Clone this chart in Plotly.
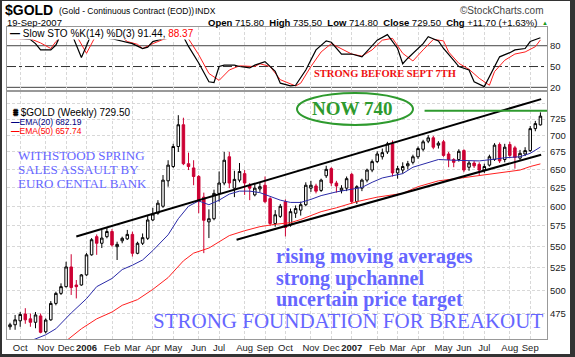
import math
from datetime import timedelta
import pandas as pd
import plotly.graph_objects as go

# ---------------- data ----------------
first_week = "2005-09-19"
n_weeks = 105

opens = [462, 464, 468, 475, 470, 466.5, 473, 457, 469, 486, 496.7, 504, 526, 505.8, 505.8,
         517, 540, 561.7, 553.7, 561.7, 568, 549.6, 556.7, 559, 564.5, 541.8, 553.7, 559.7, 582.4, 591,
         600, 634, 654, 683, 716, 658, 652, 640, 612, 580, 584, 617, 631, 668, 624,
         635, 644, 628, 615, 623, 628, 610, 578, 587, 606, 576, 591, 595, 602, 624,
         627, 621, 641, 651, 631, 621, 624, 643, 606, 624, 635, 649, 661, 668, 675,
         687, 645, 649, 655, 660, 668, 679, 691, 696, 685, 690, 672, 664, 664, 677,
         653, 659, 657, 649, 656, 664, 686, 664, 686, 681, 666, 672, 677, 710, 715.8]
highs = [466, 474, 477, 481, 475.5, 477, 475.5, 470.5, 488.5, 498.5, 507.6, 532, 540.7, 511.3, 518,
         542, 560, 564.4, 570, 573, 571, 555.6, 561.7, 570, 567.8, 555.6, 565.6, 588.7, 598, 608,
         642, 663, 687, 731, 727, 674, 663, 642, 618, 596, 622, 647, 675, 675, 648,
         659, 649, 631, 631, 631, 640, 612, 595, 603, 609, 597, 601, 606, 632, 634,
         630, 637, 655, 653, 634, 628, 640, 645, 628, 637, 651, 664, 676, 680, 690,
         692, 655, 660, 662, 671, 683, 693, 700, 699, 691, 693, 675, 666, 679, 679,
         662, 662, 660, 658, 671, 688, 689, 687, 690, 684, 678, 682, 714, 722, 735.5]
lows = [459, 459, 462, 465, 462, 460.5, 455.5, 455.5, 468, 484, 495, 503, 495, 491.3, 505,
        516, 539, 540, 548, 559.7, 549.6, 534, 553.7, 557.7, 538, 540.7, 551.6, 557.7, 581, 589,
        598, 626, 652, 675, 656, 649, 628, 591, 542, 560, 582, 606, 628, 624, 612,
        632, 615, 608, 613, 619, 604, 575, 574, 585, 562, 574, 585, 588, 600, 619,
        617, 619, 638, 627, 618, 617, 620, 603, 603, 620, 632, 646, 659, 664, 672,
        640, 637, 644, 650, 657, 665, 676, 688, 679, 680, 668, 653, 653, 661, 646,
        648, 652, 642, 645, 654, 662, 659, 660, 666, 651, 663, 669, 675, 706, 714.8]
closes = [464, 469, 474.5, 469, 466.5, 474, 456.5, 468.8, 486, 496.7, 504, 526, 503, 504, 517,
          540, 558, 553.7, 560, 568, 551.6, 552.4, 559.7, 564.5, 541.8, 553.7, 560.5, 582.4, 590, 604,
          635, 656, 683, 716, 658, 654, 640, 606, 582, 584, 617, 631, 663, 631, 636,
          647, 631, 624, 624, 626, 606, 578, 589, 600, 573, 593, 597, 602, 628, 628,
          620, 635, 650, 631, 627, 624, 637, 606, 626, 635, 649, 661, 672, 674, 687,
          645, 651, 654, 658, 668, 680, 690, 696, 682, 688, 670, 664, 660, 676, 649,
          659, 655, 649, 654, 668, 685, 662, 682, 670, 667, 673, 677, 710, 717.8, 729.5]

# moving averages, sampled at week numbers (0 = first candle)
ema20_week = [4, 7, 9, 11, 12, 15, 17, 20, 22, 24, 26, 28, 31, 33, 35, 37, 38, 39, 41, 43, 45, 47, 49,
              51, 53, 55, 57, 59, 61, 64, 67, 69, 71, 73, 75, 77, 79, 82, 84, 87, 90, 92, 95, 97,
              100, 102, 104]
ema20_val = [448, 454, 460, 471, 476, 491, 504, 513, 523, 528, 534, 545, 564, 584, 600, 607, 605, 602,
             608, 616, 620, 620, 618, 613, 608, 605, 605, 609, 614, 619, 622, 625, 632, 638, 641, 644,
             653, 660, 664, 663, 662, 662, 664.5, 666.5, 668, 673, 682.19]
ema50_week = [11, 14, 17, 20, 22, 25, 28, 29, 31, 34, 36, 39, 41, 43, 46, 49, 52, 55, 57, 61, 64, 68,
              72, 77, 80, 84, 88, 92, 96, 100, 102, 104]
ema50_val = [448, 460, 470, 477, 484, 490, 501, 505, 514, 533, 542, 548, 555, 563, 569, 574, 577, 579,
             583, 593, 598, 606, 612, 617, 626, 634, 637.5, 641, 644.5, 649, 654, 657.74]

# slow stochastic
stok_week = [0, 2, 4, 5, 6, 8, 9, 10, 11, 12, 13, 14, 15, 16, 17, 18, 20, 22, 24, 26, 27, 28, 30, 32,
             33, 34, 35, 37, 39, 40, 41, 42, 44, 45, 47, 48, 50, 52, 53, 55, 56, 58, 60, 62, 63, 65,
             67, 69, 71, 72, 74, 76, 77, 78, 81, 82, 84, 85, 87, 88, 90, 91, 93, 95, 96, 98, 99,
             101, 102, 104]
stok_val = [91.5, 90.6, 89, 83, 74, 74, 81, 97, 100, 99, 80, 63, 80, 98, 99, 92, 90, 86, 83, 76, 78,
            86, 90, 92, 98, 93, 79, 55, 28, 27, 50, 52, 52, 50, 48, 52, 57, 43, 26, 22, 23, 45, 74,
            87, 85, 68, 68, 64, 79, 88, 96, 76, 54, 62, 83, 93, 87, 76, 59, 50, 45, 28, 21, 50, 64,
            70, 74, 76, 86, 91.44]
stod_week = [0, 4, 6, 8, 9, 11, 13, 15, 17, 19, 22, 23, 25, 26, 28, 30, 32, 34, 35, 37, 39, 41, 43,
             45, 48, 49, 51, 53, 56, 57, 59, 61, 63, 65, 67, 69, 71, 73, 75, 77, 79, 81, 83, 85, 86,
             88, 90, 92, 94, 95, 97, 99, 101, 103, 104]
stod_val = [90, 90, 84, 76, 86, 99, 95, 69, 97, 92, 92, 86, 82, 76, 83, 89, 92, 94, 90, 67, 40, 30,
            45, 51, 50, 54, 50, 31, 22, 26, 50, 71, 83, 76, 68, 65, 74, 88, 90.6, 69, 58, 74, 89, 87,
            71, 54.6, 46, 33, 23, 42.6, 59, 68, 71, 78.6, 88.37]

# hand-drawn lines
upper_trend_dates = ["2005-12-19", "2007-09-18"]
upper_trend_vals = [562, 757]
lower_trend_dates = ["2006-07-27", "2007-09-18"]
lower_trend_vals = [558, 671]
now_dates = ["2007-04-11", "2007-09-26"]
now_vals = [738, 738]

month_labels = ["Oct", "Nov", "Dec", "<b>2006</b>", "Feb", "Mar", "Apr", "May", "Jun", "Jul", "Aug",
                "Sep", "Oct", "Nov", "Dec", "<b>2007</b>", "Feb", "Mar", "Apr", "May", "Jun", "Jul",
                "Aug", "Sep"]
price_ticks = [475, 500, 525, 550, 575, 600, 625, 650, 675, 700, 725, 750]
sto_ticks = [20, 50, 80]

# ---------------- figure ----------------
dates = pd.date_range(first_week, periods=n_weeks, freq="7D")
d0 = dates[0]

seen = set()
month_starts = []
for d in dates:
    key = (d.year, d.month)
    if key not in seen:
        seen.add(key)
        month_starts.append(d)
month_starts = month_starts[1:]

W, H = 575, 357
L, R, T, B = 7, 547, 27, 339


def pxx(x):
    return (x - L) / (R - L)


def pxy(y):
    return (B - y) / (B - T)


main_top = pxy(91)
x_range = [d0 - timedelta(days=7 * 0.588), d0 + timedelta(days=7 * 105.29)]
ylog = [math.log10(449.9), math.log10(770.4)]

fig = go.Figure()

fig.add_trace(go.Candlestick(
    x=dates, open=opens, high=highs, low=lows, close=closes,
    increasing=dict(line=dict(color="black", width=1), fillcolor="white"),
    decreasing=dict(line=dict(color="#cc0033", width=1), fillcolor="#cc0033"),
    whiskerwidth=0, xaxis="x", yaxis="y", showlegend=False, hoverinfo="skip"))

fig.add_trace(go.Scatter(x=[dates[k] for k in ema20_week], y=ema20_val, mode="lines",
                         line=dict(color="#2a2aa8", width=1), xaxis="x", yaxis="y",
                         showlegend=False, hoverinfo="skip"))
fig.add_trace(go.Scatter(x=[dates[k] for k in ema50_week], y=ema50_val, mode="lines",
                         line=dict(color="#ff2020", width=1), xaxis="x", yaxis="y",
                         showlegend=False, hoverinfo="skip"))
for xs, ys, col in [(upper_trend_dates, upper_trend_vals, "black"),
                    (lower_trend_dates, lower_trend_vals, "black"),
                    (now_dates, now_vals, "#2e9a2e")]:
    fig.add_trace(go.Scatter(x=xs, y=ys, mode="lines", line=dict(color=col, width=2),
                             xaxis="x", yaxis="y", showlegend=False, hoverinfo="skip"))

fig.add_trace(go.Scatter(x=[dates[k] for k in stod_week], y=stod_val, mode="lines",
                         line=dict(color="#ff2020", width=1), xaxis="x2", yaxis="y2",
                         showlegend=False, hoverinfo="skip"))
fig.add_trace(go.Scatter(x=[dates[k] for k in stok_week], y=stok_val, mode="lines",
                         line=dict(color="black", width=1.2), xaxis="x2", yaxis="y2",
                         showlegend=False, hoverinfo="skip"))

grid = dict(showgrid=True, gridcolor="#d8d8d8", griddash="3px,2px", gridwidth=1)
sans = "Liberation Sans, Arial, sans-serif"
serif = "Liberation Serif, Times New Roman, serif"

fig.update_layout(
    width=W, height=H, margin=dict(l=L, r=W - R, t=T, b=H - B, pad=0, autoexpand=False),
    paper_bgcolor="white", plot_bgcolor="white",
    xaxis=dict(domain=[0, 1], anchor="y", type="date", range=x_range, tickmode="array",
               tickvals=month_starts, ticktext=month_labels, ticks="", tickangle=0,
               automargin=False, rangeslider=dict(visible=False),
               tickfont=dict(family=sans, size=9.5, color="#222"),
               showline=True, mirror=True, linecolor="#999", linewidth=1, **grid),
    xaxis2=dict(domain=[0, 1], anchor="y2", type="date", matches="x", tickmode="array",
                tickvals=month_starts, showticklabels=False, ticks="", automargin=False,
                showline=True, mirror=True, linecolor="#999", linewidth=1, **grid),
    yaxis=dict(domain=[0, main_top], type="log", range=ylog, side="right", tickmode="array",
               tickvals=price_ticks, ticktext=[str(v) if v < 750 else "" for v in price_ticks],
               ticks="", automargin=False, tickfont=dict(family=sans, size=9.5, color="#222"),
               showline=True, mirror=True, linecolor="#999", linewidth=1, **grid),
    yaxis2=dict(domain=[main_top, 1], range=[14.7, 107], side="right", tickmode="array",
                tickvals=sto_ticks, ticktext=[str(v) for v in sto_ticks], ticks="",
                automargin=False, tickfont=dict(family=sans, size=9.5, color="#222"),
                showgrid=False, showline=True, mirror=True, linecolor="#999", linewidth=1),
    showlegend=False,
)

shapes = []
for v in sto_ticks:
    shapes.append(dict(type="line", xref="paper", x0=0, x1=1, yref="y2", y0=v, y1=v,
                       line=dict(color="#444" if v != 50 else "#333", width=1,
                                 dash="solid" if v != 50 else "dashdot"), layer="below"))
# green ellipse
shapes.append(dict(type="circle", xref="paper", yref="paper", x0=pxx(297), x1=pxx(413),
                   y0=pxy(125), y1=pxy(93), line=dict(color="#2e9a2e", width=2)))
# outer frame
frame = "#333"
shapes += [
    dict(type="rect", xref="paper", yref="paper", x0=pxx(0), x1=pxx(2), y0=pxy(357), y1=pxy(0),
         fillcolor=frame, line=dict(width=0)),
    dict(type="rect", xref="paper", yref="paper", x0=pxx(570), x1=pxx(575), y0=pxy(357), y1=pxy(0),
         fillcolor=frame, line=dict(width=0)),
    dict(type="rect", xref="paper", yref="paper", x0=pxx(0), x1=pxx(575), y0=pxy(357), y1=pxy(354),
         fillcolor=frame, line=dict(width=0)),
    dict(type="rect", xref="paper", yref="paper", x0=pxx(0), x1=pxx(575), y0=pxy(1), y1=pxy(0),
         fillcolor=frame, line=dict(width=0)),
]
fig.update_layout(shapes=shapes)

ann = []


def text(x, y, s, size=10, color="#000", family=sans, xanchor="left", bg=None):
    d = dict(x=pxx(x), y=pxy(y), xref="paper", yref="paper", text=s, showarrow=False,
             xanchor=xanchor, yanchor="middle", font=dict(family=family, size=size, color=color))
    if bg:
        d["bgcolor"] = bg
        d["borderpad"] = 0
    ann.append(d)


text(3, 10, "<b>$GOLD</b>", size=14)
text(57, 11, "(Gold - Continuous Contract (EOD))", size=8.5)
text(193, 11, "INDX", size=8.5)
text(546, 11, "©StockCharts.com", size=10, color="#444", xanchor="right")
text(5, 22, "19-Sep-2007", size=9.5)
text(539, 22, "<b>Open</b> 715.80  <b>High</b> 735.50  <b>Low</b> 714.80  <b>Close</b> 729.50  "
              "<b>Chg</b> +11.70 (+1.63%)", size=9.5, xanchor="right")
text(545, 23, "▲", size=6, color="#1a9a1a", xanchor="center")
text(9, 33, "<b>—</b> Slow STO %K(14) %D(3) 91.44, <span style='color:#ff0000'>88.37</span>",
     size=10, bg="white")
text(12, 112, "<b>⩩</b> $GOLD (Weekly) 729.50", size=10, bg="white")
text(9, 121.5, "<span style='color:#000080'><b>—</b>EMA(20) 682.19</span>", size=8.5, color="#000080")
text(9, 131, "<span style='color:#ff0000'><b>—</b>EMA(50) 657.74</span>", size=8.5, color="#ff0000")

blue = "#6666ff"
text(16, 155, "WITHSTOOD SPRING", size=13, color=blue, family=serif)
text(16, 169, "SALES ASSAULT BY", size=13, color=blue, family=serif)
text(16, 183, "EURO CENTAL BANK", size=13, color=blue, family=serif)
text(274, 256, "<b>rising moving averages</b>", size=20, color=blue, family=serif)
text(274, 278, "<b>strong upchannel</b>", size=20, color=blue, family=serif)
text(274, 299, "<b>uncertain price target</b>", size=20, color=blue, family=serif)
text(151, 321, "STRONG FOUNDATION FOR BREAKOUT", size=21, color=blue, family=serif)
text(352, 109, "<b>NOW 740</b>", size=19, color="#2e9a2e", family=serif, xanchor="center")
text(385, 73, "<b>STRONG BEFORE SEPT 7TH</b>", size=10.5, color="#ee1111", family=serif,
     xanchor="center")

fig.update_layout(annotations=ann)
fig.write_html("out.html", config={"displayModeBar": False},
               post_script="document.body.style.margin='0';document.body.style.overflow='hidden';")
